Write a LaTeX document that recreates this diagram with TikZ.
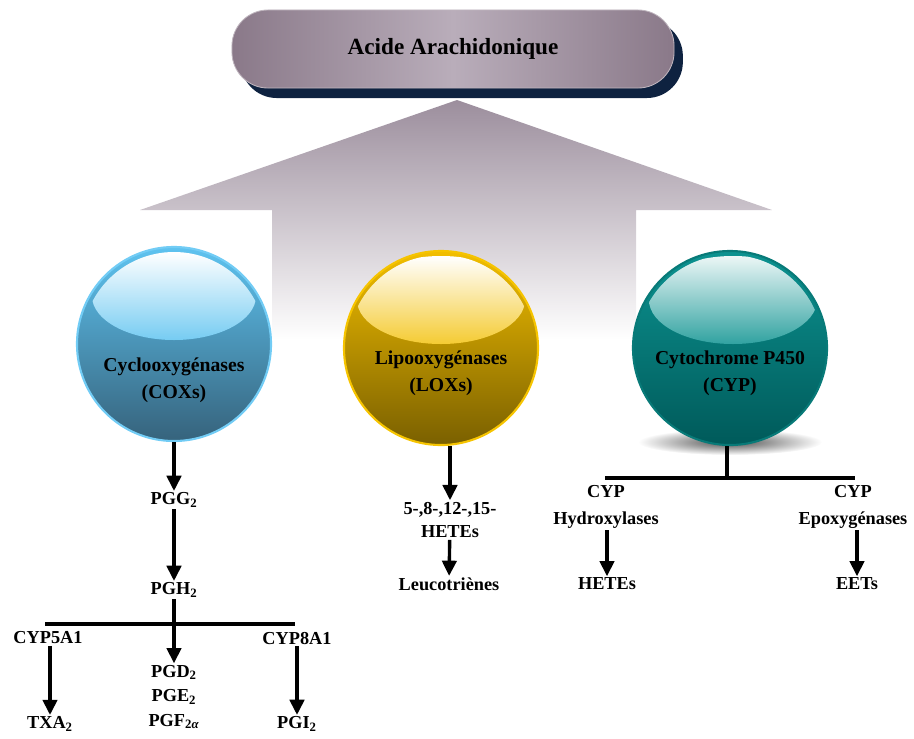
\documentclass[tikz,border=0pt]{standalone}
\usepackage{fontspec}
\setmainfont{Liberation Serif}
\usepackage{xcolor}
\usepackage{tikz}
\usetikzlibrary{shapes, arrows.meta, positioning, shadows}

\definecolor{pilledge}{HTML}{8A7989}
\definecolor{pillmid}{HTML}{B9ADBA}
\definecolor{pillshadow}{HTML}{0E2240}
\definecolor{housetop}{HTML}{9C8E9D}
\definecolor{coxtop}{HTML}{5EC3F0}
\definecolor{coxbot}{HTML}{36637C}
\definecolor{coxrim}{HTML}{72CCF5}
\definecolor{loxtop}{HTML}{F2BE00}
\definecolor{loxbot}{HTML}{7A6000}
\definecolor{loxrim}{HTML}{F6C400}
\definecolor{cyptop}{HTML}{0C9290}
\definecolor{cypbot}{HTML}{005A5A}
\definecolor{cyprim}{HTML}{087A78}

\tikzset{
  lbl/.style={font=\bfseries\fontsize{13}{17.5}\selectfont, align=center, inner sep=1pt},
  enz/.style={circle, minimum size=4.85cm, line width=1.5pt},
  enzlbl/.style={font=\bfseries\fontsize{14}{19.5}\selectfont, align=center},
  arr/.style={line width=2.4pt, -{Triangle[length=3.8mm, width=3.6mm]}},
  bar/.style={line width=2.4pt}
}

\begin{document}
\begin{tikzpicture}[x=0.025cm, y=-0.025cm]
        \useasboundingbox (0,0) rectangle (914,738);

        % Big arrow behind
        \shade[top color=housetop, bottom color=white] (457,100) -- (772,210) -- (636,210) -- (636,340) -- (272,340) -- (272,210) -- (140,210) -- cycle;

        % Title
        \node[rounded corners=0.9cm, minimum width=11.05cm, minimum height=1.95cm, draw=white!45!pilledge, line width=0.6pt,
              left color=pilledge, right color=pilledge, middle color=pillmid,
              drop shadow={shadow xshift=0.22cm, shadow yshift=-0.25cm, fill=pillshadow, opacity=1},
              font=\bfseries\fontsize{16.5}{20}\selectfont] (acide) at (453,49) {Acide Arachidonique};

        % Enzymes
        \node[enz, draw=coxrim, top color=coxtop, bottom color=coxbot] (cox) at (174,344) {};
        \begin{scope}
            \clip (174,344) circle (92);
            \shade[top color=white, bottom color=coxtop!85!white] (174,296) ellipse [x radius=82, y radius=44];
        \end{scope}
        \node[enzlbl] (coxlbl) at (174,380) {Cyclooxygénases\\(COXs)};

        \node[enz, draw=loxrim, top color=loxtop, bottom color=loxbot] (lox) at (441,348) {};
        \begin{scope}
            \clip (441,348) circle (93);
            \shade[top color=white, bottom color=loxtop!80!white] (441,300) ellipse [x radius=84, y radius=44];
        \end{scope}
        \node[enzlbl] (loxlbl) at (441,373) {Lipooxygénases\\(LOXs)};

        \shade[inner color=black!70, outer color=white] (730,442) ellipse [x radius=92, y radius=13];
        \node[enz, draw=cyprim, top color=cyptop, bottom color=cypbot] (cyp) at (730,348) {};
        \begin{scope}
            \clip (730,348) circle (93);
            \shade[top color=white!92!cyptop, bottom color=cyptop!85!white] (733,300) ellipse [x radius=84, y radius=44];
        \end{scope}
        \node[enzlbl] (cyplbl) at (730,373) {Cytochrome P450\\(CYP)};

        % COX pathway
        \node[lbl] (pgg) at (174,500) {PGG\textsubscript{2}};
        \node[lbl] (pgh) at (174,590) {PGH\textsubscript{2}};
        \coordinate (coxbarL) at (45,624);
        \coordinate (coxbarR) at (295,624);
        \node[lbl] (cyp5) at (48,638) {CYP5A1};
        \node[lbl] (cyp8) at (297,638) {CYP8A1};
        \node[lbl] (pgd) at (174,697) {PGD\textsubscript{2}\\PGE\textsubscript{2}\\PGF\textsubscript{2\textit{α}}};
        \node[lbl] (txa) at (50,724) {TXA\textsubscript{2}};
        \node[lbl] (pgi) at (297,724) {PGI\textsubscript{2}};

        \draw[arr] (cox) -- (pgg);
        \draw[arr] (pgg) -- (pgh);
        \draw[bar] (coxbarL) -- (coxbarR);
        \draw[arr] (pgh) -- (pgd);
        \draw[arr] (cyp5.south -| txa.north) -- (txa.north);
        \draw[arr] (cyp8) -- (pgi);

        % LOX pathway
        \node[lbl, font=\bfseries\fontsize{13}{17}\selectfont] (hete) at (450,520) {5-,8-,12-,15-\\HETEs};
        \node[lbl] (leuco) at (449,584) {Leucotriènes};
        \draw[arr] (lox.south -| hete.north) -- (hete.north);
        \draw[arr] (hete) -- (leuco);

        % CYP pathway
        \coordinate (cypbar) at (727,478);
        \coordinate (cypbarL) at (605,478);
        \coordinate (cypbarR) at (855,478);
        \node[lbl, font=\bfseries\fontsize{13}{19}\selectfont] (hydro) at (606,507) {CYP\\Hydroxylases};
        \node[lbl, font=\bfseries\fontsize{13}{19}\selectfont] (epoxy) at (853,507) {CYP\\Epoxygénases};
        \node[lbl] (hetes) at (607,584) {HETEs};
        \node[lbl] (eets) at (857,584) {EETs};

        \draw[bar] (cyp.south -| cypbar) -- (cypbar);
        \draw[bar] (cypbarL) -- (cypbarR);
        \draw[arr] (hydro.south -| hetes.north) -- (hetes.north);
        \draw[arr] (epoxy.south -| eets.north) -- (eets.north);
\end{tikzpicture}
\end{document}
